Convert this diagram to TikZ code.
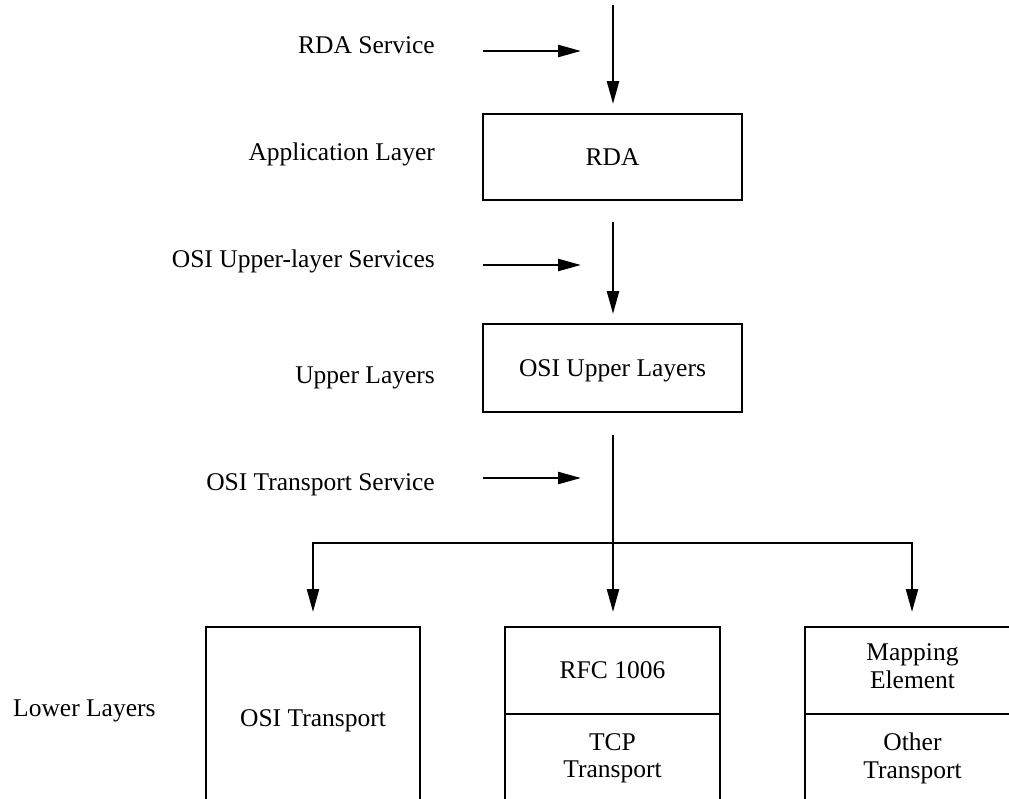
\documentclass[tikz,border=0pt]{standalone}
\usepackage{fontspec}
\setmainfont{Liberation Serif}
\usetikzlibrary{arrows.meta}
\begin{document}
\begin{tikzpicture}[x=1pt,y=-1pt,
  font=\fontsize{25.5}{27.5}\selectfont,
  box/.style={draw, line width=2.5pt, inner sep=0pt, align=center, text depth=0pt},
  lbl/.style={anchor=base east, inner sep=0pt},
  wire/.style={line width=2.4pt, line join=miter},
  arr/.style={wire, -{Triangle[length=23pt,width=12pt]}}]
\useasboundingbox (0,0) rectangle (1009,798);
\clip (0,0) rectangle (1009,798);

% boxes
\node[box, minimum width=259pt, minimum height=86pt] (rda) at (612.5,157) {RDA};
\node[box, minimum width=259pt, minimum height=88pt] (oul) at (612.5,368) {OSI Upper Layers};
\node[box, minimum width=214pt, minimum height=183pt] (osit) at (313,718.5) {OSI Transport};
\node[box, minimum width=215pt, minimum height=87pt] (rfc) at (612.5,670.5) {RFC 1006};
\node[box, minimum width=215pt, minimum height=88pt, text depth=5pt] (tcp) at (612.5,758) {TCP\\Transport};
\node[box, minimum width=215pt, minimum height=87pt, text depth=9pt] (map) at (912.5,670.5) {Mapping\\Element};
\node[box, minimum width=215pt, minimum height=88pt, text depth=5pt] (oth) at (912.5,758) {Other\\Transport};

% labels
\node[lbl] (l1) at (435,53) {RDA Service};
\node[lbl] (l2) at (435,160) {Application Layer};
\node[lbl] (l3) at (435,267) {OSI Upper-layer Services};
\node[lbl] (l4) at (435,383) {Upper Layers};
\node[lbl] (l5) at (435,490) {OSI Transport Service};
\node[anchor=base west, inner sep=0pt] (l6) at (13,716) {Lower Layers};

% connector coordinates
\coordinate (a0) at (613,5);   \coordinate (a1) at (613,104);
\coordinate (b0) at (613,222); \coordinate (b1) at (613,314);
\coordinate (c0) at (613,435); \coordinate (c1) at (613,612);
\coordinate (j)  at (613,543);
\coordinate (jl) at (313,612); \coordinate (jr) at (912,612);
\coordinate (h1s) at (483,51);  \coordinate (h1e) at (581,51);
\coordinate (h2s) at (483,265); \coordinate (h2e) at (581,265);
\coordinate (h3s) at (483,478); \coordinate (h3e) at (581,478);

\draw[arr] (a0) -- (a1);
\draw[arr] (b0) -- (b1);
\draw[arr] (c0) -- (c1);
\draw[arr] (j) -| (jl);
\draw[arr] (j) -| (jr);
\draw[arr] (h1s) -- (h1e);
\draw[arr] (h2s) -- (h2e);
\draw[arr] (h3s) -- (h3e);
\end{tikzpicture}
\end{document}
